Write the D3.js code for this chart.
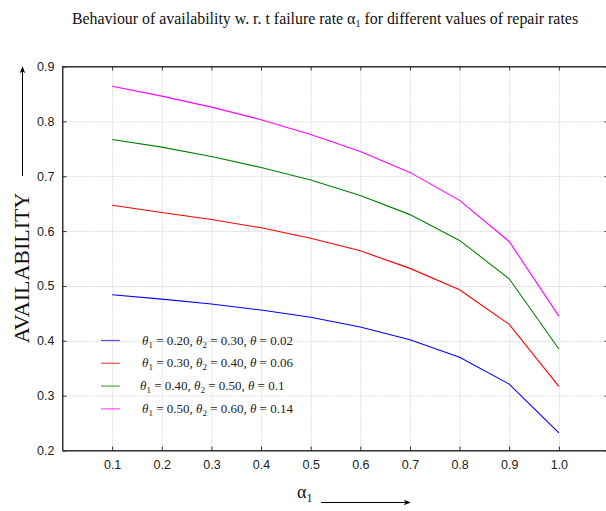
<!DOCTYPE html>
<html lang="en">
<head>
    <meta charset="UTF-8">
    <title>Availability</title>
    <script src="https://d3js.org/d3.v7.min.js"></script>
    <style>
        body { margin: 0; background: #fff; }
        .tick text { font-family: 'Liberation Sans', Arial, sans-serif; font-size: 12.5px; fill: #222; }
        .grid line { stroke: #dcdcdc; stroke-dasharray: 2,1; }
        .grid path { display: none; }
        .grid text { display: none; }
    </style>
</head>
<body>
<script>

    const width  = 606;
    const height = 511;

    const alpha   = [0.1, 0.2, 0.3, 0.4, 0.5, 0.6, 0.7, 0.8, 0.9, 1.0];
    const blue    = [0.484, 0.476, 0.467, 0.456, 0.443, 0.425, 0.402, 0.370, 0.321, 0.232];
    const red     = [0.647, 0.634, 0.621, 0.606, 0.587, 0.564, 0.532, 0.493, 0.430, 0.317];
    const green   = [0.767, 0.753, 0.736, 0.716, 0.693, 0.665, 0.630, 0.583, 0.513, 0.385];
    const magenta = [0.864, 0.846, 0.826, 0.803, 0.776, 0.745, 0.707, 0.656, 0.581, 0.445];

    const seriesNames = [
        ['0.20', '0.30', '0.02'],
        ['0.30', '0.40', '0.06'],
        ['0.40', '0.50', '0.1'],
        ['0.50', '0.60', '0.14']
    ];
    const colors = ['#0000ff', '#ff0000', '#008000', '#ff00ff'];
    const yTicks = [0.2, 0.3, 0.4, 0.5, 0.6, 0.7, 0.8, 0.9];

    const series = [blue, red, green, magenta];

    const pLeft = 62.5, pTop = 66.5, pRight = 608.5, pBottom = 450.5;

    const x = d3.scaleLinear().domain([0, 1.1]).range([pLeft, pRight]);
    const y = d3.scaleLinear().domain([0.2, 0.9]).range([pBottom, pTop]);

    const svg = d3.select("body")
            .append("svg")
            .attr("width", width)
            .attr("height", height);

    // grid
    svg.append("g").attr("class", "grid")
            .attr("transform", "translate(0," + pBottom + ")")
            .call(d3.axisBottom(x).tickValues(alpha).tickSize(-(pBottom - pTop)));
    svg.append("g").attr("class", "grid")
            .attr("transform", "translate(" + pLeft + ",0)")
            .call(d3.axisLeft(y).tickValues(yTicks).tickSize(-(pRight - pLeft)));

    // lines
    const line = d3.line()
            .x((d, i) => x(alpha[i]))
            .y(d => y(d));

    svg.selectAll("path.series")
            .data(series)
            .enter()
            .append("path")
            .attr("class", "series")
            .attr("d", line)
            .attr("fill", "none")
            .attr("stroke", (d, i) => colors[i])
            .attr("stroke-width", 1.1);

    // axes (inward ticks)
    svg.append("g")
            .attr("transform", "translate(0," + pBottom + ")")
            .call(d3.axisBottom(x).tickValues(alpha).tickFormat(d3.format(".1f")).tickSizeInner(-4).tickSizeOuter(0).tickPadding(10));
    svg.append("g")
            .attr("transform", "translate(" + pLeft + ",0)")
            .call(d3.axisLeft(y).tickValues(yTicks).tickFormat(d3.format(".1f")).tickSizeInner(-4).tickSizeOuter(0).tickPadding(8));
    svg.append("g")
            .attr("transform", "translate(0," + pTop + ")")
            .call(d3.axisTop(x).tickValues(alpha).tickFormat("").tickSizeInner(-4).tickSizeOuter(0));
    svg.append("g")
            .attr("transform", "translate(" + pRight + ",0)")
            .call(d3.axisRight(y).tickValues(yTicks).tickFormat("").tickSizeInner(-4).tickSizeOuter(0));
    svg.selectAll(".domain").attr("stroke", "#333");
    svg.selectAll(".tick line").filter(function() { return !this.closest(".grid"); }).attr("stroke", "#333");

    svg.append("rect")
            .attr("x", pLeft).attr("y", pTop)
            .attr("width", pRight - pLeft).attr("height", pBottom - pTop)
            .attr("fill", "none").attr("stroke", "#333").attr("stroke-width", 1);

    // title
    const title = svg.append("text")
            .attr("x", 325).attr("y", 24)
            .attr("text-anchor", "middle")
            .style("font-family", "'Liberation Serif', 'Times New Roman', serif")
            .style("font-size", "15.9px")
            .style("fill", "#111");
    title.append("tspan").text("Behaviour of availability  w. r. t failure rate \u03B1");
    title.append("tspan").attr("dy", 3).style("font-size", "10px").text("1");
    title.append("tspan").attr("dy", -3).text(" for different values of repair rates");

    // y label + arrow
    const defs = svg.append("defs");
    defs.append("marker")
            .attr("id", "arrow")
            .attr("viewBox", "0 0 10 10")
            .attr("refX", 9).attr("refY", 5)
            .attr("markerWidth", 9).attr("markerHeight", 7)
            .attr("orient", "auto")
            .append("path")
            .attr("d", "M0,1 L10,5 L0,9 L3,5 Z")
            .attr("fill", "#000");

    svg.append("text")
            .attr("transform", "translate(29,268) rotate(-90)")
            .attr("text-anchor", "middle")
            .style("font-family", "'Liberation Serif', 'Times New Roman', serif")
            .style("font-size", "22px")
            .style("fill", "#111")
            .text("AVAILABILITY");
    svg.append("line")
            .attr("x1", 22.5).attr("y1", 176)
            .attr("x2", 22.5).attr("y2", 67)
            .attr("stroke", "#000").attr("stroke-width", 1)
            .attr("marker-end", "url(#arrow)");

    // x label + arrow
    const xl = svg.append("text")
            .attr("x", 297).attr("y", 498)
            .style("font-family", "'Liberation Serif', 'Times New Roman', serif")
            .style("font-size", "18px")
            .style("fill", "#111");
    xl.append("tspan").text("\u03B1");
    xl.append("tspan").attr("dy", 4).style("font-size", "12px").text("1");
    svg.append("line")
            .attr("x1", 321).attr("y1", 502.5)
            .attr("x2", 410).attr("y2", 502.5)
            .attr("stroke", "#000").attr("stroke-width", 1)
            .attr("marker-end", "url(#arrow)");

    // legend
    const legend = svg.append("g");
    seriesNames.forEach((s, i) => {
        const yy = 340.5 + i * 22.8;
        legend.append("line")
                .attr("x1", 101).attr("x2", 120)
                .attr("y1", yy).attr("y2", yy)
                .attr("stroke", colors[i]).attr("stroke-opacity", 0.65).attr("stroke-width", 1.3);
        const t = legend.append("text")
                .attr("x", i === 2 ? 140 : 142).attr("y", yy + 4)
                .style("font-family", "'Liberation Serif', serif")
                .style("font-size", "13px")
                .style("fill", "#222");
        t.append("tspan").style("font-style", "italic").text("\u03B8");
        t.append("tspan").attr("dy", 3).style("font-size", "9px").text("1");
        t.append("tspan").attr("dy", -3).text(" = " + s[0] + ", ");
        t.append("tspan").style("font-style", "italic").text("\u03B8");
        t.append("tspan").attr("dy", 3).style("font-size", "9px").text("2");
        t.append("tspan").attr("dy", -3).text(" = " + s[1] + ", ");
        t.append("tspan").style("font-style", "italic").text("\u03B8");
        t.append("tspan").text(" = " + s[2]);
    });

</script>
</body>
</html>
